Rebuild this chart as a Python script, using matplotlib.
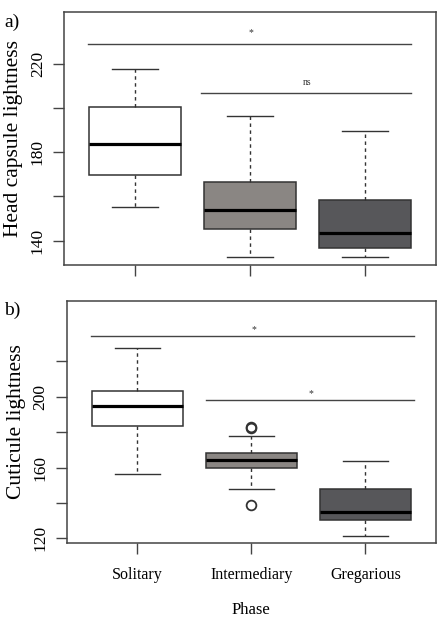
import matplotlib
matplotlib.use("Agg")
import matplotlib.pyplot as plt

plt.rcParams['font.family'] = ['Liberation Serif', 'DejaVu Serif']

phases = ["Solitary", "Intermediary", "Gregarious"]
fill_colors = ["#ffffff", "#8a8683", "#57575a"]

# a) head capsule lightness (read from the picture)
head_whislo = [155.2, 132.6, 132.6]
head_q1 = [169.8, 145.3, 136.5]
head_med = [183.8, 153.9, 143.6]
head_q3 = [200.4, 166.7, 158.5]
head_whishi = [217.6, 196.5, 189.6]
head_fliers = [[], [], []]

# b) cuticule lightness
cut_whislo = [156.5, 147.9, 121.5]
cut_q1 = [183.3, 159.9, 130.5]
cut_med = [194.7, 164.1, 134.7]
cut_q3 = [203.4, 168.2, 147.9]
cut_whishi = [227.3, 178.0, 163.8]
cut_fliers = [[], [182.7, 182.3, 138.6], []]

# significance bars: (y, x start, x end, label, label y)
head_sig = [(229.2, 0.59, 3.4, "*", 234.0), (206.7, 1.57, 3.4, "ns", 211.4)]
cut_sig = [(234.5, 0.59, 3.43, "*", 237.7), (198.0, 1.6, 3.43, "*", 201.7)]


def stats_list(lo, q1, med, q3, hi, fl):
    out = []
    for i in range(len(med)):
        out.append(dict(whislo=lo[i], q1=q1[i], med=med[i], q3=q3[i],
                        whishi=hi[i], fliers=fl[i]))
    return out


def draw_panel(ax, stats, ylim, ticks, labels, ylabel, sig, tag, tag_x, tag_y):
    pos = [1, 2, 3]
    b = ax.bxp(stats, positions=pos, widths=0.8, patch_artist=True,
               showfliers=True, capwidths=0.4,
               boxprops=dict(edgecolor="#333333", linewidth=1.1),
               medianprops=dict(color="black", linewidth=2.3),
               whiskerprops=dict(color="#333333", linewidth=1.0,
                                 linestyle=(0, (2.5, 2.5))),
               capprops=dict(color="#333333", linewidth=1.0),
               flierprops=dict(marker="o", markersize=7, markerfacecolor="none",
                               markeredgecolor="#333333", markeredgewidth=1.3))
    for patch, c in zip(b["boxes"], fill_colors):
        patch.set_facecolor(c)
    for y, x0, x1, txt, ty in sig:
        ax.plot([x0, x1], [y, y], color="#444444", linewidth=1.0)
        ax.text((x0 + x1) / 2 + 0.01, ty, txt, ha="center", va="center",
                fontsize=7, color="#333333")
    ax.set_xlim(0.38, 3.62)
    ax.set_ylim(*ylim)
    ax.set_yticks(ticks)
    ax.set_yticklabels(labels, rotation=90, va="center")
    ax.set_ylabel(ylabel, fontsize=15.5, labelpad=5)
    ax.tick_params(axis="both", direction="out", length=8, width=1.0,
                   color="#444444", labelsize=12.5)
    ax.tick_params(axis="y", pad=5)
    ax.tick_params(axis="x", pad=9, labelsize=11.5)
    for s in ax.spines.values():
        s.set_color("#444444")
        s.set_linewidth(1.1)
    ax.text(tag_x, tag_y, tag, transform=ax.transAxes, fontsize=14,
            ha="center", va="center")


fig = plt.figure(figsize=(4.39, 6.27), dpi=100)
ax1 = fig.add_axes([0.1458, 0.5774, 0.8474, 0.4035])
ax2 = fig.add_axes([0.1519, 0.1335, 0.8413, 0.3869])

draw_panel(ax1, stats_list(head_whislo, head_q1, head_med, head_q3, head_whishi, head_fliers),
           (129, 243.5), [140, 160, 180, 200, 220], ["140", "", "180", "", "220"],
           "Head capsule lightness", head_sig, "a)", -0.14, 0.96)
ax1.set_xticks([1, 2, 3])
ax1.set_xticklabels(["", "", ""])

draw_panel(ax2, stats_list(cut_whislo, cut_q1, cut_med, cut_q3, cut_whishi, cut_fliers),
           (117.2, 254.2), [120, 140, 160, 180, 200, 220],
           ["120", "", "160", "", "200", ""],
           "Cuticule lightness", cut_sig, "b)", -0.148, 0.962)
ax2.set_xticks([1, 2, 3])
ax2.set_xticklabels(phases)
ax2.set_xlabel("Phase", fontsize=12, labelpad=14)

fig.savefig("out.png", dpi=100)
